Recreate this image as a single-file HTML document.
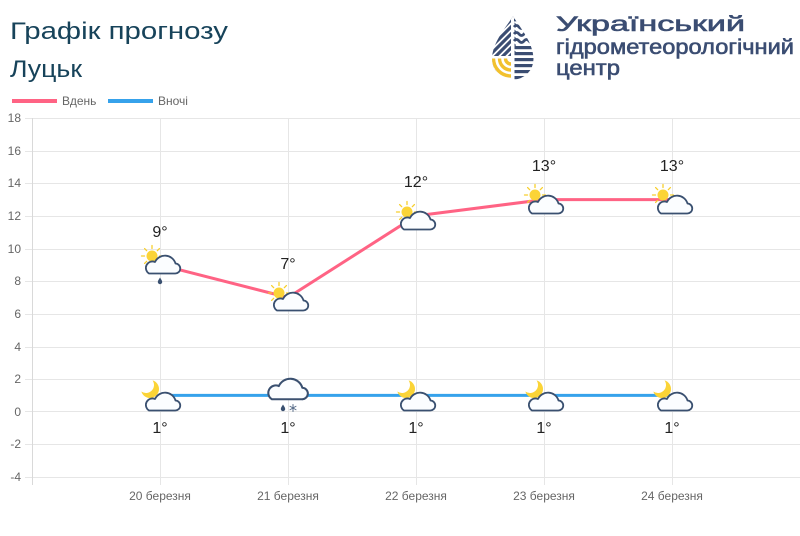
<!DOCTYPE html>
<html><head><meta charset="utf-8"><style>
html,body{margin:0;padding:0;background:#fff;}
svg{display:block;}
</style></head><body>
<svg width="800" height="536" viewBox="0 0 800 536" xmlns="http://www.w3.org/2000/svg">
<defs>
<path id="cloud" d="M6,18.5 H32 A5,5 0 0 0 32.5,8.5 A11,11 0 0 0 12,7 A6.5,6.5 0 0 0 6,18.5 Z" fill="#fbfdff" stroke="#3a5070" stroke-width="1.8" stroke-linejoin="round"/>
<g id="sun">
<circle cx="0" cy="0" r="5.5" fill="#fbd437"/>
<g stroke="#f7cf2c" stroke-width="1.3" stroke-linecap="round">
<line x1="0" y1="-7.5" x2="0" y2="-10.5"/>
<line x1="5.3" y1="-5.3" x2="7.4" y2="-7.4"/>
<line x1="-5.3" y1="-5.3" x2="-7.4" y2="-7.4"/>
<line x1="-7.5" y1="0" x2="-10.5" y2="0"/>
<line x1="7.5" y1="0" x2="10.5" y2="0"/>
<line x1="-5.3" y1="5.3" x2="-7.4" y2="7.4"/>
<line x1="5.3" y1="5.3" x2="7.4" y2="7.4"/>
<line x1="0" y1="7.5" x2="0" y2="10.5"/>
</g>
</g>
<path id="moon" d="M2.52,-8.64 A9,9 0 1 1 -8.64,2.52 A8,8 0 0 0 2.52,-8.64 Z" fill="#fbd437"/>
<path id="drop" d="M0,-3.5 C1.2,-1.5 2.2,-0.3 2.2,1 A2.2,2.2 0 0 1 -2.2,1 C-2.2,-0.3 -1.2,-1.5 0,-3.5 Z" fill="#3a5070"/>
<g id="flake" stroke="#5a6e8a" stroke-width="1" stroke-linecap="round">
<line x1="0" y1="-3.5" x2="0" y2="3.5"/>
<line x1="-3" y1="-1.75" x2="3" y2="1.75"/>
<line x1="-3" y1="1.75" x2="3" y2="-1.75"/>
</g>
<clipPath id="dropclip"><path d="M513,16 C518,25 533.5,42 533.5,59 A20.75,20.75 0 0 1 492,59 C492,42 508,25 513,16 Z"/></clipPath>
</defs>

<!-- Titles -->
<text x="10" y="39" font-family="Liberation Sans, sans-serif" font-size="24" fill="#17435a" textLength="218" lengthAdjust="spacingAndGlyphs">Графік прогнозу</text>
<text x="10" y="77" font-family="Liberation Sans, sans-serif" font-size="24" fill="#17435a" textLength="72" lengthAdjust="spacingAndGlyphs">Луцьк</text>

<!-- Logo -->
<g clip-path="url(#dropclip)">
  <g stroke="#3b4d72" stroke-width="3.2">
    <line x1="480" y1="44" x2="515" y2="9"/>
    <line x1="480" y1="51" x2="515" y2="16"/>
    <line x1="480" y1="58" x2="515" y2="23"/>
    <line x1="480" y1="65" x2="515" y2="30"/>
    <line x1="480" y1="72" x2="515" y2="37"/>
    <line x1="480" y1="79" x2="515" y2="44"/>
    <line x1="480" y1="86" x2="515" y2="51"/>
  </g>
  <rect x="480" y="56" width="35" height="30" fill="#fff"/>
  <g fill="none" stroke="#f2c12e" stroke-width="3.4">
    <path d="M505.5,58.5 A5.5,5.5 0 0 0 511,64"/>
    <path d="M499.5,58.5 A11.5,11.5 0 0 0 511,70"/>
    <path d="M493.5,58.5 A17.5,17.5 0 0 0 511,76"/>
    <path d="M487.5,58.5 A23.5,23.5 0 0 0 511,82"/>
  </g>
  <rect x="511" y="10" width="3.5" height="75" fill="#fff"/>
  <g fill="none" stroke="#3b4d72" stroke-width="2.8">
    <path d="M514,27 q2.5,-3 5,0 t5,0 t5,0 t5,0"/>
    <path d="M514,34 q2.5,-3 5,0 t5,0 t5,0 t5,0"/>
    <path d="M514,41 q2.5,-3 5,0 t5,0 t5,0 t5,0"/>
    <line x1="514" y1="20" x2="520" y2="20"/>
  </g>
  <g fill="#3b4d72">
    <rect x="514.5" y="46" width="22" height="3.2"/>
    <rect x="514.5" y="52" width="22" height="3.2"/>
    <rect x="514.5" y="58" width="22" height="3.2"/>
    <rect x="514.5" y="64" width="22" height="3.2"/>
    <rect x="514.5" y="70" width="22" height="3.2"/>
    <rect x="514.5" y="76" width="22" height="3.2"/>
  </g>
</g>
<g font-family="Liberation Sans, sans-serif" font-size="21" fill="#3b4d72" stroke="#3b4d72" stroke-width="0.6">
  <text x="556" y="31" textLength="189" lengthAdjust="spacingAndGlyphs">Український</text>
  <text x="556" y="54" textLength="238" lengthAdjust="spacingAndGlyphs">гідрометеорологічний</text>
  <text x="556" y="75" textLength="64" lengthAdjust="spacingAndGlyphs">центр</text>
</g>

<!-- Legend -->
<rect x="12" y="99" width="45" height="4" fill="#ff6384"/>
<text x="62" y="105" font-family="Liberation Sans, sans-serif" font-size="12" fill="#666">Вдень</text>
<rect x="108" y="99" width="45" height="4" fill="#36a2eb"/>
<text x="158" y="105" font-family="Liberation Sans, sans-serif" font-size="12" fill="#666">Вночі</text>

<!-- Grid -->
<g stroke="#e6e6e6" stroke-width="1">
  <line x1="25" y1="118.5" x2="800" y2="118.5"/>
  <line x1="25" y1="151.5" x2="800" y2="151.5"/>
  <line x1="25" y1="183.5" x2="800" y2="183.5"/>
  <line x1="25" y1="216.5" x2="800" y2="216.5"/>
  <line x1="25" y1="249.5" x2="800" y2="249.5"/>
  <line x1="25" y1="281.5" x2="800" y2="281.5"/>
  <line x1="25" y1="314.5" x2="800" y2="314.5"/>
  <line x1="25" y1="347.5" x2="800" y2="347.5"/>
  <line x1="25" y1="379.5" x2="800" y2="379.5"/>
  <line x1="25" y1="411.5" x2="800" y2="411.5"/>
  <line x1="25" y1="444.5" x2="800" y2="444.5"/>
  <line x1="25" y1="477.5" x2="800" y2="477.5"/>
  <line x1="160.5" y1="118" x2="160.5" y2="485"/>
  <line x1="288.5" y1="118" x2="288.5" y2="485"/>
  <line x1="416.5" y1="118" x2="416.5" y2="485"/>
  <line x1="544.5" y1="118" x2="544.5" y2="485"/>
  <line x1="672.5" y1="118" x2="672.5" y2="485"/>
</g>
<line x1="32.5" y1="118" x2="32.5" y2="485" stroke="#d9d9d9" stroke-width="1"/>

<!-- Y labels -->
<g font-family="Liberation Sans, sans-serif" font-size="12" fill="#666" text-anchor="end">
  <text x="21" y="122">18</text>
  <text x="21" y="155">16</text>
  <text x="21" y="187">14</text>
  <text x="21" y="220">12</text>
  <text x="21" y="253">10</text>
  <text x="21" y="285">8</text>
  <text x="21" y="318">6</text>
  <text x="21" y="351">4</text>
  <text x="21" y="383">2</text>
  <text x="21" y="416">0</text>
  <text x="21" y="448">-2</text>
  <text x="21" y="481">-4</text>
</g>

<!-- X labels -->
<g font-family="Liberation Sans, sans-serif" font-size="12" fill="#666" text-anchor="middle">
  <text x="160" y="500">20 березня</text>
  <text x="288" y="500">21 березня</text>
  <text x="416" y="500">22 березня</text>
  <text x="544" y="500">23 березня</text>
  <text x="672" y="500">24 березня</text>
</g>

<!-- Series -->
<polyline points="160,264.8 288,297.5 416,215.9 544,199.6 672,199.6" fill="none" stroke="#ff6384" stroke-width="3" stroke-linejoin="round"/>
<polyline points="160,395.4 288,395.4 416,395.4 544,395.4 672,395.4" fill="none" stroke="#36a2eb" stroke-width="3"/>

<!-- Day icons -->
<use href="#sun" x="152" y="256"/>
<use href="#cloud" x="143" y="255"/>
<use href="#drop" x="160" y="281"/>

<use href="#sun" x="279" y="293"/>
<use href="#cloud" x="271" y="292"/>

<use href="#sun" x="407" y="212"/>
<use href="#cloud" x="398" y="211"/>

<use href="#sun" x="535" y="195"/>
<use href="#cloud" x="526" y="195"/>

<use href="#sun" x="663" y="195"/>
<use href="#cloud" x="655" y="195"/>

<!-- Night icons -->
<use href="#moon" x="150" y="389"/>
<use href="#cloud" x="143" y="392"/>

<g transform="translate(265,378) scale(1.15)"><use href="#cloud"/></g>
<use href="#drop" x="283" y="408"/>
<use href="#flake" x="293" y="408"/>

<use href="#moon" x="406" y="389"/>
<use href="#cloud" x="398" y="392"/>

<use href="#moon" x="534" y="389"/>
<use href="#cloud" x="526" y="392"/>

<use href="#moon" x="662" y="389"/>
<use href="#cloud" x="655" y="392"/>

<!-- Value labels -->
<g font-family="Liberation Sans, sans-serif" font-size="16" fill="#222" text-anchor="middle">
  <text x="160" y="237">9°</text>
  <text x="288" y="269">7°</text>
  <text x="416" y="187">12°</text>
  <text x="544" y="171">13°</text>
  <text x="672" y="171">13°</text>
  <text x="160" y="433">1°</text>
  <text x="288" y="433">1°</text>
  <text x="416" y="433">1°</text>
  <text x="544" y="433">1°</text>
  <text x="672" y="433">1°</text>
</g>
</svg>
</body></html>
